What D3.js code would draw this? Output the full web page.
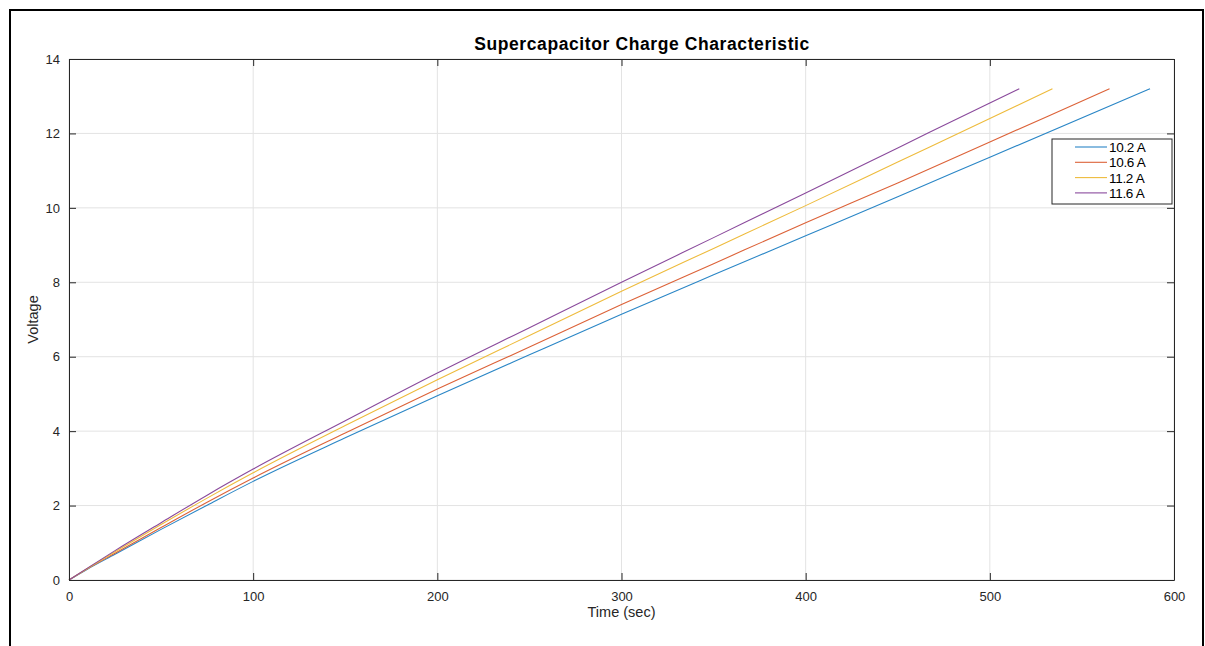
<!DOCTYPE html>
<html>
<head>
<meta charset="utf-8">
<script src="https://cdn.jsdelivr.net/npm/d3@7"></script>
<style>
  body { margin: 0; background: #fff; }
  svg { font-family: "Liberation Sans", Arial, sans-serif; }
</style>
</head>
<body>
<div id="chart"></div>
<script>
// data
const seriesNames = ["10.2 A", "10.6 A", "11.2 A", "11.6 A"];
const colors = ["#2a86c6", "#dc6238", "#eebb3c", "#8a4a9c"];

const tBlue   = [0, 10, 25, 50, 75, 100, 150, 200, 250, 300, 350, 400, 450, 500, 587];
const vBlue   = [0, 0.29, 0.69, 1.36, 2.01, 2.65, 3.82, 4.95, 6.05, 7.14, 8.2, 9.25, 10.3, 11.36, 13.2];
const tOrange = [0, 10, 25, 50, 75, 100, 150, 200, 250, 300, 350, 400, 450, 500, 565];
const vOrange = [0, 0.30, 0.72, 1.41, 2.09, 2.74, 3.95, 5.13, 6.26, 7.4, 8.5, 9.6, 10.67, 11.77, 13.2];
const tYellow = [0, 10, 25, 50, 75, 100, 150, 200, 250, 300, 350, 400, 450, 500, 534];
const vYellow = [0, 0.31, 0.76, 1.49, 2.2, 2.88, 4.15, 5.38, 6.57, 7.76, 8.91, 10.06, 11.23, 12.4, 13.2];
const tPurple = [0, 10, 25, 50, 75, 100, 150, 200, 250, 300, 350, 400, 450, 500, 516];
const vPurple = [0, 0.32, 0.79, 1.54, 2.28, 2.98, 4.28, 5.56, 6.78, 8.0, 9.2, 10.4, 11.61, 12.82, 13.2];

const xTicks = [0, 100, 200, 300, 400, 500, 600];
const yTicks = [0, 2, 4, 6, 8, 10, 12, 14];

const series = [
    { name: seriesNames[0], t: tBlue, v: vBlue },
    { name: seriesNames[1], t: tOrange, v: vOrange },
    { name: seriesNames[2], t: tYellow, v: vYellow },
    { name: seriesNames[3], t: tPurple, v: vPurple }
];

const svgWidth = 1205, svgHeight = 646;
const margin = { top: 59, right: 31, bottom: 66, left: 69 };
const width = svgWidth - margin.left - margin.right;
const height = svgHeight - margin.top - margin.bottom;

const svg = d3.select("#chart").append("svg")
    .attr("width", svgWidth)
    .attr("height", svgHeight);

// outer frame (bottom edge falls off the picture)
svg.append("path")
    .attr("d", "M10,650 V10 H1203 V650")
    .attr("fill", "none")
    .attr("stroke", "#000")
    .attr("stroke-width", 2);

const chart = svg.append("g")
    .attr("transform", `translate(${margin.left}, ${margin.top})`);

const xScale = d3.scaleLinear().domain([0, 600]).range([0, width]);
const yScale = d3.scaleLinear().domain([0, 14]).range([height, 0]);

// grid
chart.append("g").selectAll("line")
    .data(xTicks)
    .enter().append("line")
    .attr("x1", d => xScale(d)).attr("x2", d => xScale(d))
    .attr("y1", 0).attr("y2", height)
    .attr("stroke", "#e3e3e3");
chart.append("g").selectAll("line")
    .data(yTicks)
    .enter().append("line")
    .attr("y1", d => yScale(d)).attr("y2", d => yScale(d))
    .attr("x1", 0).attr("x2", width)
    .attr("stroke", "#e3e3e3");

// lines
const line = d3.line()
    .x(d => xScale(d[0]))
    .y(d => yScale(d[1]))
    .curve(d3.curveMonotoneX);

series.forEach((s, i) => {
    chart.append("path")
        .datum(s.t.map((t, j) => [t, s.v[j]]))
        .attr("fill", "none")
        .attr("stroke", colors[i])
        .attr("stroke-width", 1.1)
        .attr("d", line);
});

// axes with inward ticks
function styleAxis(g) {
    g.select(".domain").attr("stroke", "#262626");
    g.selectAll(".tick line").attr("stroke", "#262626");
    g.selectAll(".tick text").attr("fill", "#262626").style("font-size", "13px");
}

chart.append("g")
    .attr("transform", `translate(0, ${height})`)
    .call(d3.axisBottom(xScale).tickValues(xTicks).tickSizeInner(-7).tickSizeOuter(0).tickPadding(12))
    .call(styleAxis);
chart.append("g")
    .call(d3.axisLeft(yScale).tickValues(yTicks).tickSizeInner(-7).tickSizeOuter(0).tickPadding(9))
    .call(styleAxis);
chart.append("g")
    .call(d3.axisTop(xScale).tickValues(xTicks).tickSizeInner(-7).tickSizeOuter(0).tickFormat(""))
    .call(styleAxis);
chart.append("g")
    .attr("transform", `translate(${width}, 0)`)
    .call(d3.axisRight(yScale).tickValues(yTicks).tickSizeInner(-7).tickSizeOuter(0).tickFormat(""))
    .call(styleAxis);

// title and labels
svg.append("text")
    .attr("x", 642)
    .attr("y", 50)
    .attr("text-anchor", "middle")
    .style("font-size", "17.5px")
    .style("font-weight", "bold")
    .style("letter-spacing", "0.6px")
    .attr("fill", "#000")
    .text("Supercapacitor Charge Characteristic");

svg.append("text")
    .attr("x", margin.left + width / 2)
    .attr("y", 617)
    .attr("text-anchor", "middle")
    .style("font-size", "14.5px")
    .attr("fill", "#262626")
    .text("Time (sec)");

svg.append("text")
    .attr("transform", `translate(38, ${margin.top + height / 2}) rotate(-90)`)
    .attr("text-anchor", "middle")
    .style("font-size", "14.5px")
    .attr("fill", "#262626")
    .text("Voltage");

// legend
const legend = svg.append("g").attr("transform", "translate(1052, 139)");
legend.append("rect")
    .attr("width", 120).attr("height", 65)
    .attr("fill", "#fff")
    .attr("stroke", "#262626");
series.forEach((s, i) => {
    const y = 8 + i * 15.3;
    legend.append("line")
        .attr("x1", 23).attr("x2", 55)
        .attr("y1", y).attr("y2", y)
        .attr("stroke", colors[i])
        .attr("stroke-width", 1.1);
    legend.append("text")
        .attr("x", 57).attr("y", y + 5)
        .style("font-size", "13.5px")
        .style("letter-spacing", "-0.3px")
        .attr("fill", "#000")
        .text(s.name);
});
</script>
</body>
</html>
